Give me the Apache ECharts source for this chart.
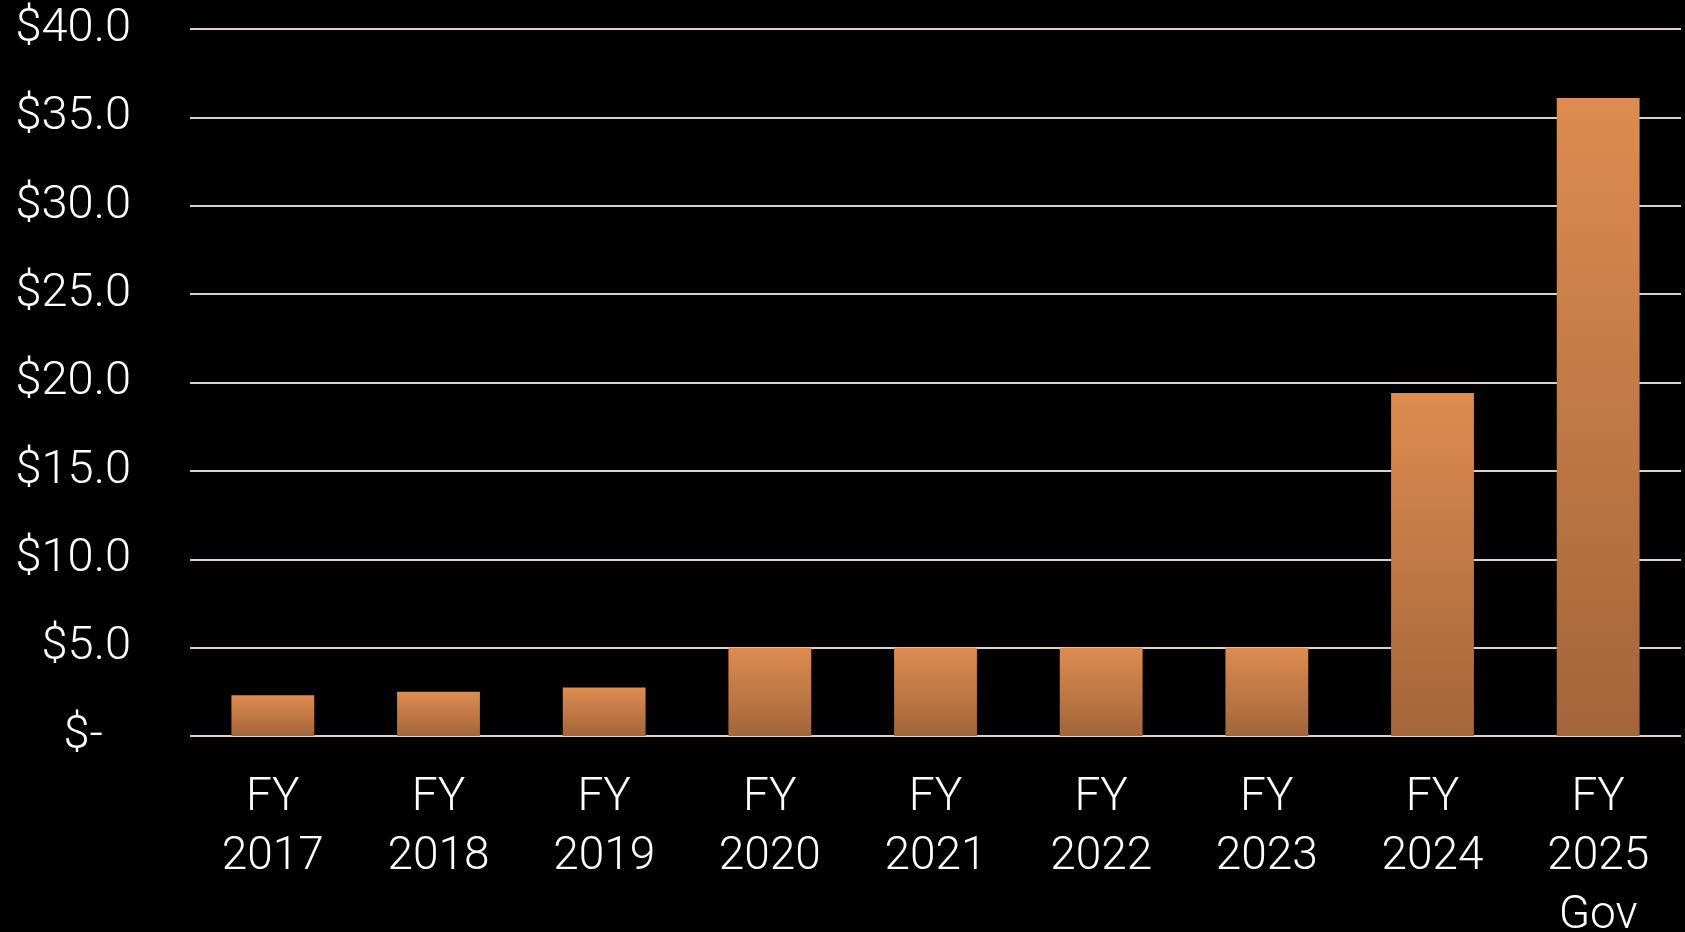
<!DOCTYPE html>
<html>
<head>
<meta charset="utf-8">
<script src="https://cdn.jsdelivr.net/npm/echarts@6/dist/echarts.min.js"></script>
<style>
html,body{margin:0;padding:0;background:#000;}
#c{width:1685px;height:932px;}
</style>
</head>
<body>
<div id="c"></div>
<script>
const categories = ['FY\n2017','FY\n2018','FY\n2019','FY\n2020','FY\n2021','FY\n2022','FY\n2023','FY\n2024','FY\n2025\nGov'];
const values = [2.3, 2.5, 2.75, 5.0, 5.0, 5.0, 5.0, 19.4, 36.1];
const yMin = 0, yMax = 40, yStep = 5;

const FONT = 'Roboto, "Liberation Sans", Arial, sans-serif';
const WEIGHT = 300;
const chart = echarts.init(document.getElementById('c'));
chart.setOption({
  backgroundColor: '#000000',
  animation: false,
  grid: {left: 190, right: 4, top: 29, bottom: 196, containLabel: false, outerBoundsMode: 'none'},
  xAxis: {
    type: 'category',
    data: categories,
    axisLine: {show: false},
    axisTick: {show: false},
    axisLabel: {
      interval: 0,
      color: '#ffffff',
      fontFamily: FONT,
      fontWeight: WEIGHT,
      fontSize: 46,
      lineHeight: 59,
      margin: 33
    }
  },
  yAxis: {
    type: 'value',
    min: yMin, max: yMax, interval: yStep,
    axisLine: {show: false},
    axisTick: {show: false},
    splitLine: {lineStyle: {color: '#ddd3c2', width: 2}},
    axisLabel: {
      color: '#ffffff',
      fontFamily: FONT,
      fontWeight: WEIGHT,
      fontSize: 47,
      margin: 59,
      formatter: function (v) { return v === 0 ? '{d|$-}' : '$' + v.toFixed(1); },
      rich: {d: {color: '#ffffff', fontFamily: FONT, fontWeight: WEIGHT, fontSize: 47, padding: [0, 28, 0, 0]}}
    }
  },
  series: [{
    type: 'bar',
    data: values,
    barWidth: '50%',
    itemStyle: {
      color: new echarts.graphic.LinearGradient(0, 0, 0, 1, [
        {offset: 0, color: '#de8c50'},
        {offset: 1, color: '#a3653a'}
      ])
    }
  }]
});
</script>
</body>
</html>
